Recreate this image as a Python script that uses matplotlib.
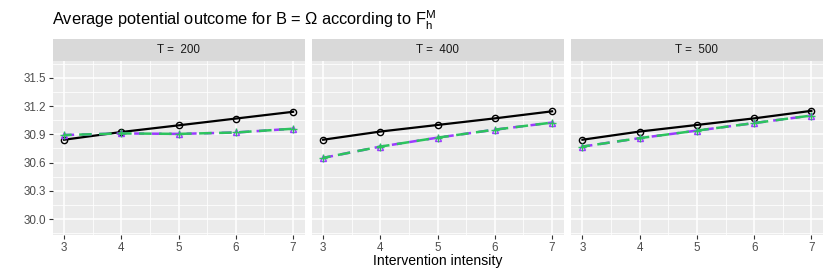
import matplotlib
matplotlib.use("Agg")
import matplotlib.pyplot as plt
from matplotlib.ticker import MultipleLocator

plt.rcParams['font.family'] = ['Liberation Sans', 'DejaVu Sans']
plt.rcParams['mathtext.fontset'] = 'custom'
plt.rcParams['mathtext.rm'] = 'Liberation Sans'

x = [3, 4, 5, 6, 7]
panels = ["T =  200", "T =  400", "T =  500"]
true_vals = [
    [30.843, 30.925, 30.996, 31.068, 31.14],
    [30.843, 30.93, 31.0, 31.07, 31.145],
    [30.843, 30.93, 31.0, 31.07, 31.15],
]
est_a = [
    [30.893, 30.91, 30.905, 30.92, 30.96],
    [30.65, 30.77, 30.865, 30.95, 31.025],
    [30.77, 30.86, 30.94, 31.02, 31.1],
]
est_b = [
    [30.893, 30.91, 30.905, 30.92, 30.96],
    [30.65, 30.77, 30.865, 30.95, 31.025],
    [30.77, 30.86, 30.94, 31.02, 31.1],
]
yticks = [30.0, 30.3, 30.6, 30.9, 31.2, 31.5]

fig = plt.figure(figsize=(8.3, 2.77), dpi=100)
W, H = 830, 277
lefts = [52.7, 311.7, 571.0]
width = 251.8
ptop, pbot = 61, 235
strip_h = 22

for i in range(3):
    ax = fig.add_axes([lefts[i] / W, (H - pbot) / H, width / W, (pbot - ptop) / H])
    ax.set_facecolor('#EBEBEB')
    for s in ax.spines.values():
        s.set_visible(False)
    ax.set_xlim(2.8, 7.2)
    ax.set_ylim(29.83, 31.68)
    ax.set_yticks(yticks)
    ax.set_xticks(x)
    ax.yaxis.set_minor_locator(MultipleLocator(0.15))
    ax.xaxis.set_minor_locator(MultipleLocator(0.5))
    ax.grid(which='major', color='white', lw=1.1)
    ax.grid(which='minor', color='white', lw=0.55)
    ax.set_axisbelow(True)
    ax.tick_params(which='minor', length=0)
    ax.tick_params(which='major', length=3, width=0.8, color='#333333',
                   labelsize=8.4, labelcolor='#4D4D4D', pad=2)
    if i > 0:
        ax.tick_params(axis='y', left=False, labelleft=False)
    ax.plot(x, true_vals[i], color='black', lw=1.6, marker='o', ms=4.5,
            mfc='none', mec='black', mew=1.0, zorder=3)
    ax.plot(x, est_a[i], color='#9B3BFF', lw=1.8, ls=(0, (4, 3)), marker='^',
            ms=5, mfc='none', mec='#9B3BFF', mew=1.0, zorder=4)
    ax.plot(x, est_b[i], color='#2CC35E', lw=1.8, ls=(2, (5, 3)), marker='+',
            ms=6, mec='#2CC35E', mew=1.0, zorder=5)
    # strip
    sax = fig.add_axes([lefts[i] / W, (H - ptop) / H, width / W, strip_h / H])
    sax.set_facecolor('#D9D9D9')
    sax.set_xticks([]); sax.set_yticks([])
    for s in sax.spines.values():
        s.set_visible(False)
    sax.text(0.5, 0.5, panels[i], ha='center', va='center', fontsize=8.4,
             color='#1A1A1A', transform=sax.transAxes)

fig.text(lefts[1] / W + width / W / 2, 12 / H, 'Intervention intensity',
         ha='center', va='baseline', fontsize=10.1)
fig.text(52 / W, 1 - 25.5 / H,
         r'Average potential outcome for B = $\Omega$ according to $\mathregular{F_h^M}$',
         ha='left', va='baseline', fontsize=11.8)

fig.savefig('out.png', dpi=100)
